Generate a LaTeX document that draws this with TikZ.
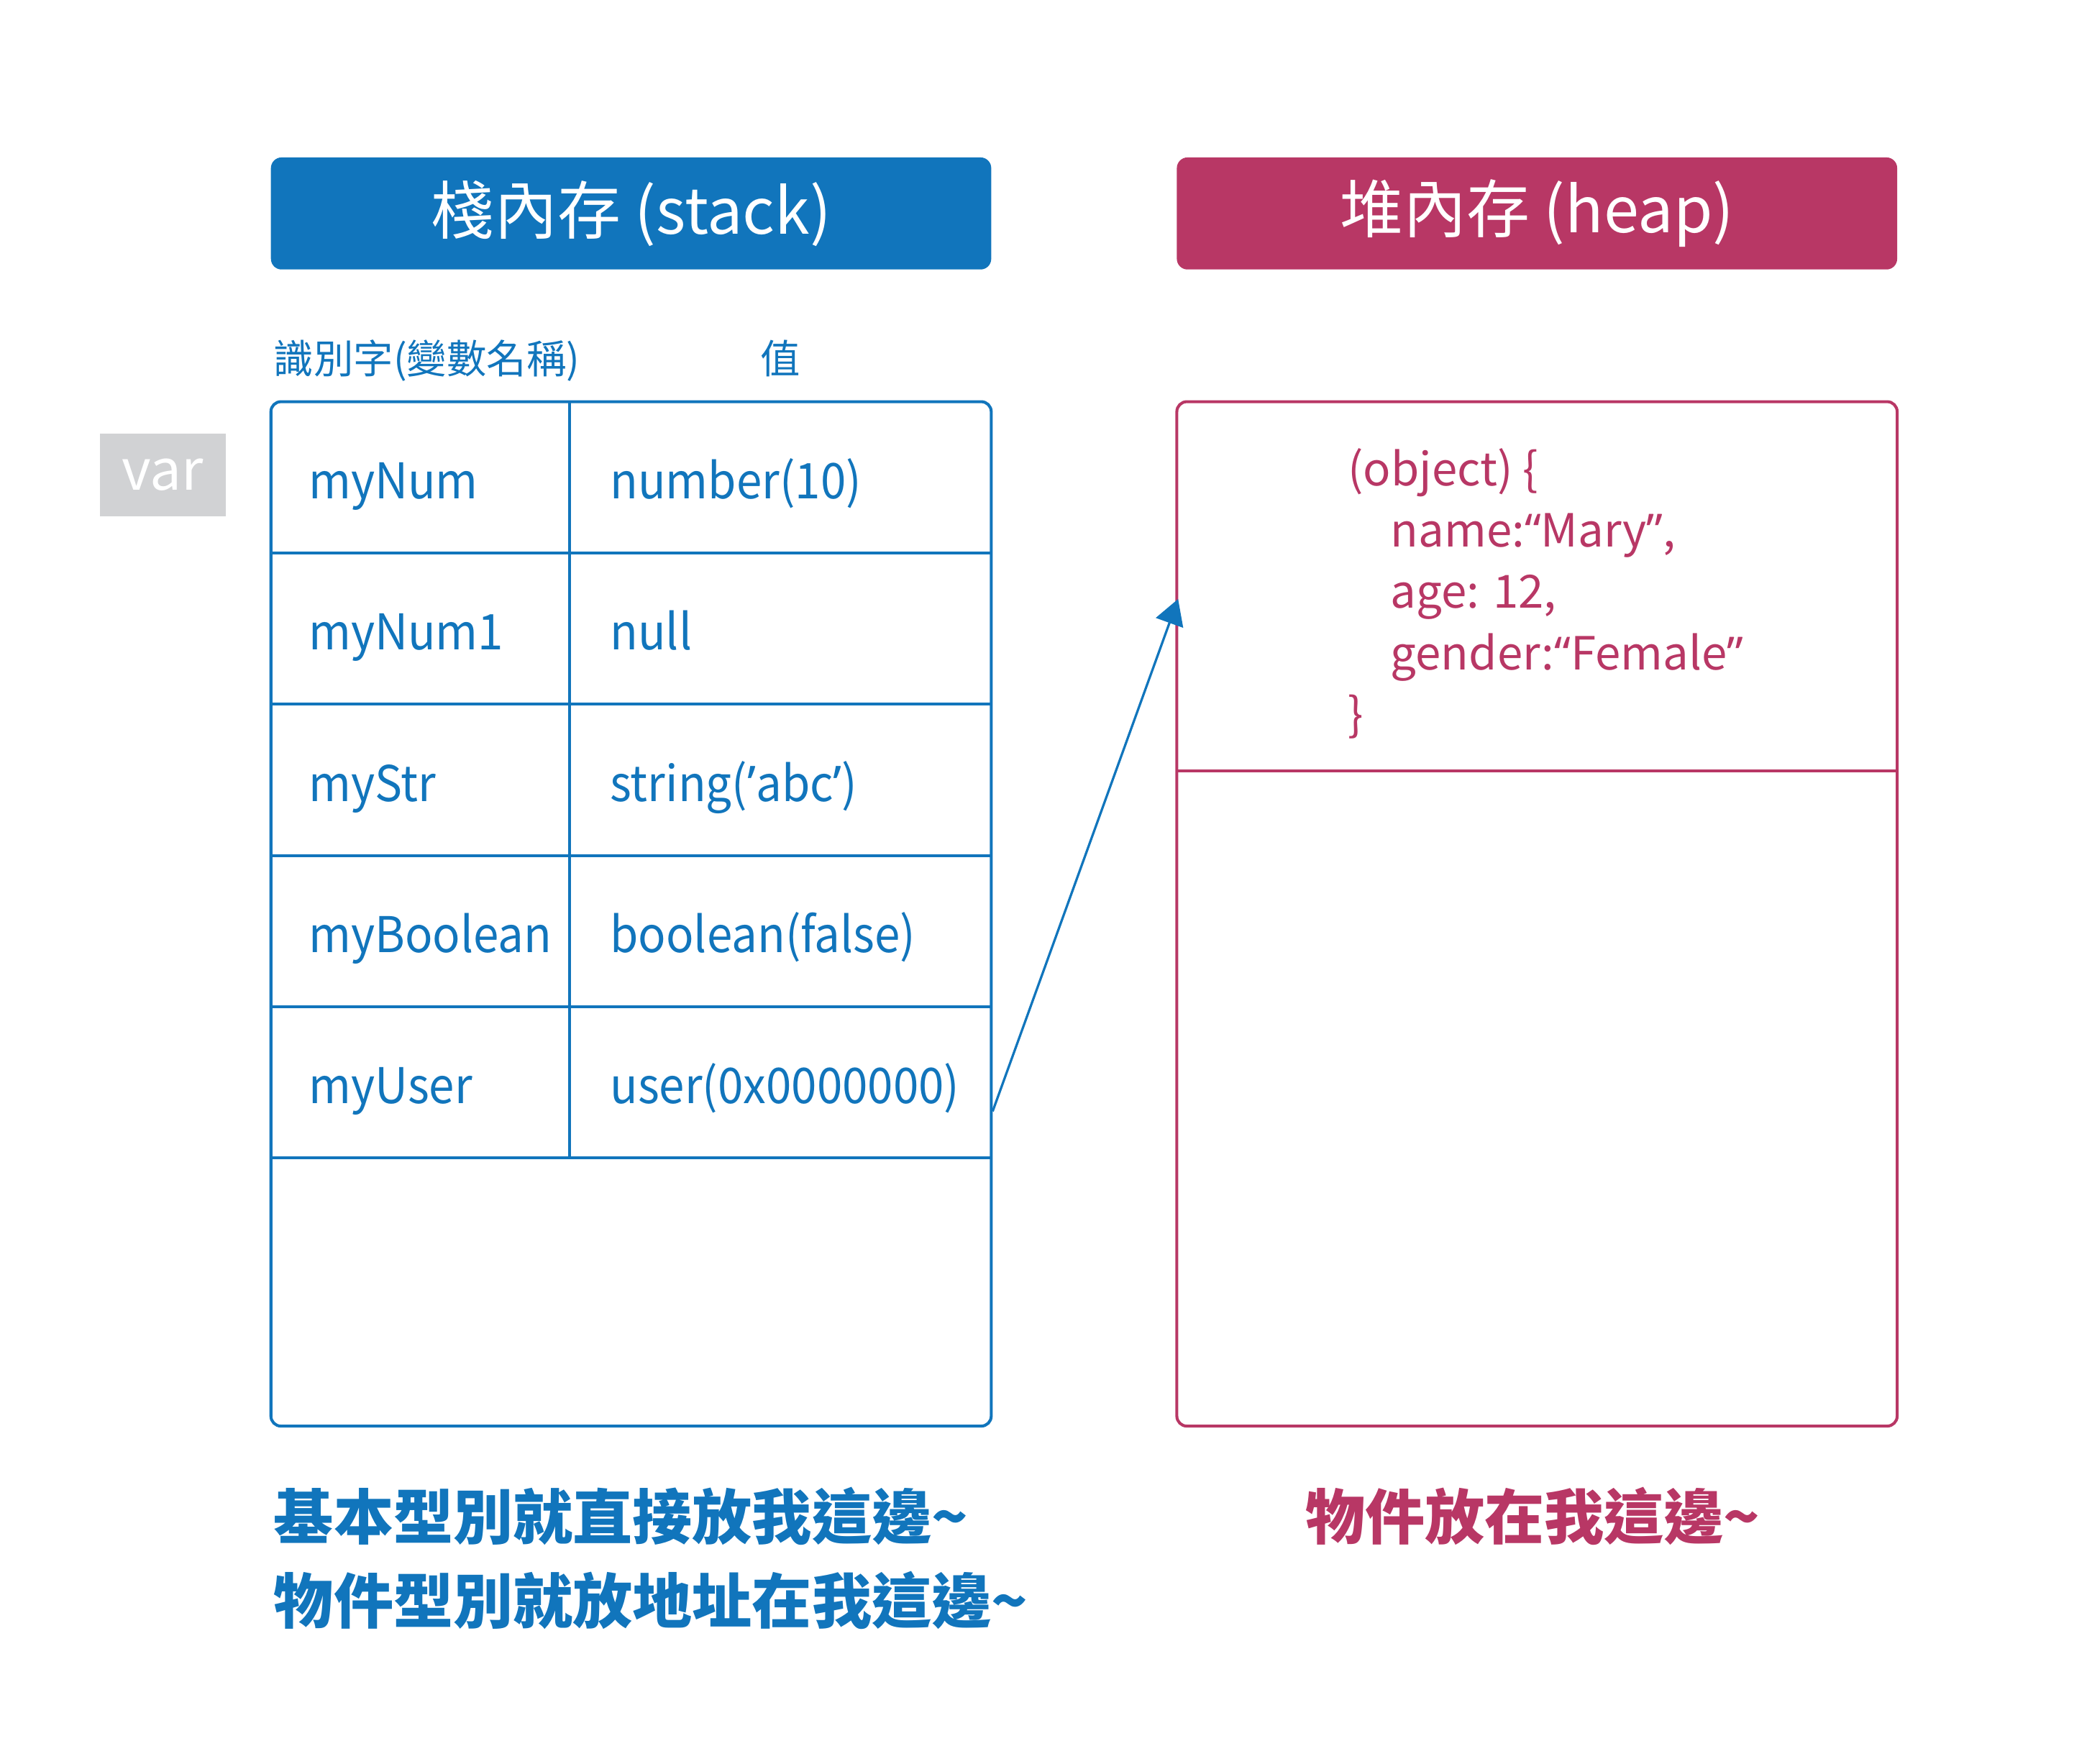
\documentclass[tikz,border=0pt]{standalone}
\usepackage{fontspec}
\setmainfont{Noto Sans CJK TC}
\newfontfamily\narrowfont{Noto Sans CJK TC}[FakeStretch=0.93]
\newfontfamily\qf{Noto Sans}
\usetikzlibrary{positioning}
\usetikzlibrary{arrows.meta}
\definecolor{stackblue}{RGB}{17,117,188}
\definecolor{heapred}{RGB}{184,55,101}
\definecolor{vargray}{RGB}{209,210,212}

\begin{document}
\begin{tikzpicture}[x=0.02cm,y=-0.02cm,
  header/.style={rounded corners=0.16cm,minimum width=10.8cm,minimum height=1.68cm,text=white,font=\fontsize{27}{32}\selectfont},
  memory/.style={draw,line width=1.25pt,rounded corners=0.15cm,minimum width=10.8cm,minimum height=15.36cm},
  cell/.style={anchor=base west,inner sep=0pt,text=stackblue,font=\narrowfont\fontsize{21}{25}\selectfont},
  objline/.style={anchor=base west,inner sep=0pt,text=heapred,font=\fontsize{19.5}{24}\selectfont},
  note/.style={anchor=base west,inner sep=0pt,font=\fontsize{25.5}{30}\selectfont\bfseries}]
  \useasboundingbox (0,0) rectangle (1568,1322.2);

  % headers
  \node[header,fill=stackblue] (stackhead) at (473,160) {棧內存 (stack)};
  \node[header,fill=heapred] (heaphead) at (1152,160) {堆內存 (heap)};

  \node[anchor=base west,inner sep=0pt,text=stackblue,font=\fontsize{17}{20}\selectfont] (idlabel) at (205,280) {識別字(變數名稱)};
  \node[anchor=base,inner sep=0pt,text=stackblue,font=\fontsize{17}{20}\selectfont] (vallabel) at (585,280) {值};

  \node[fill=vargray,minimum width=1.88cm,minimum height=1.24cm,text=white,font=\fontsize{24}{28}\selectfont] (var) at (122,356) {var};

  % stack
  \node[memory,draw=stackblue] (stack) at (473,685) {};
  \draw[stackblue,line width=1.25pt] (427,301) -- (427,868);
  \foreach \name/\val [count=\i] in {myNum/number(10),myNum1/null,myStr/string({\qf ’}abc{\qf ’}),myBoolean/boolean(false),myUser/user(0x0000000)}{
    \node[cell] (id\i) at (231,{301+113.4*(\i-0.5)+16}) {\name};
    \node[cell] (val\i) at (457,{301+113.4*(\i-0.5)+16}) {\val};
    \draw[stackblue,line width=1.25pt] (203,{301+113.4*\i}) -- (743,{301+113.4*\i});
  }

  % heap
  \node[memory,draw=heapred] (heap) at (1152,685) {};
  \draw[heapred,line width=1.25pt] (882,578) -- (1422,578);
  \node[objline] (obj1) at (1010,364) {(object) \{};
  \node[objline] (obj2) at (1042,410) {name:{\qf “}Mary{\qf ”},};
  \node[objline] (obj3) at (1042,456) {age: 12,};
  \node[objline] (obj4) at (1042,502) {gender:{\qf “}Female{\qf ”}};
  \node[objline] (obj5) at (1010,548) {\}};

  % pointer
  \coordinate (ptr) at (744,833);
  \coordinate (obj) at (883,449);
  \draw[stackblue,line width=1pt,-{Triangle[length=0.38cm,width=0.43cm]}] (ptr) -- (obj);

  % notes
  \node[note,text=stackblue] (note1) at (205,1154) {基本型別就直接放我這邊\textasciitilde};
  \node[note,text=stackblue] (note2) at (205,1217) {物件型別就放地址在我這邊\textasciitilde};
  \node[note,text=heapred] (note3) at (978,1154) {物件放在我這邊\textasciitilde};
\end{tikzpicture}
\end{document}
